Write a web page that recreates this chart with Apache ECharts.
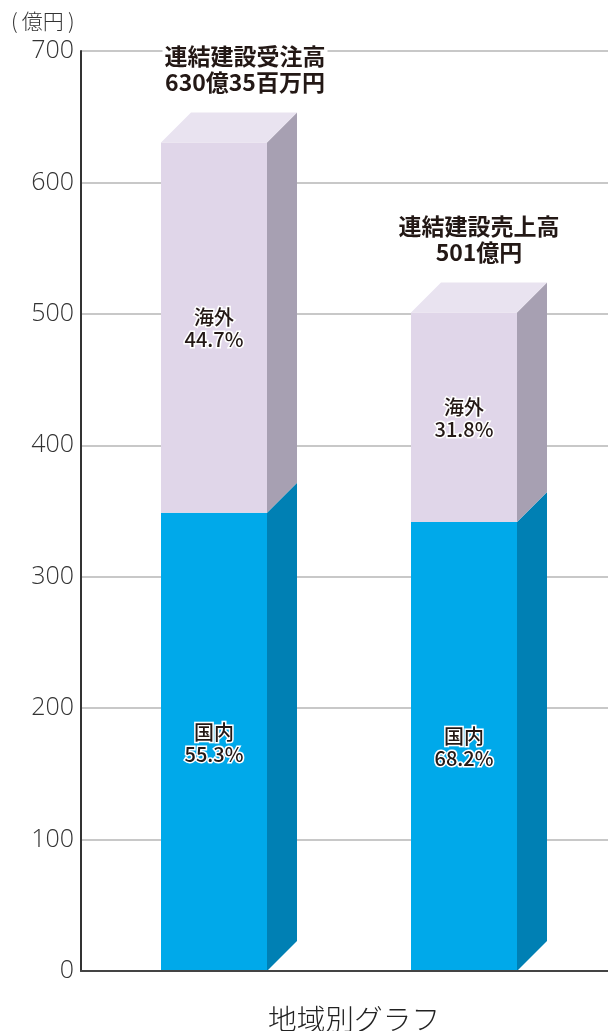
<!DOCTYPE html>
<html>
<head>
<meta charset="utf-8">
<style>
  html, body { margin: 0; padding: 0; background: #fff; }
  #chart { width: 608px; height: 1031px; }
</style>
<script src="https://cdn.jsdelivr.net/npm/echarts@6/dist/echarts.min.js"></script>
</head>
<body>
<div id="chart"></div>
<script>
const barIndex = [0, 1]
const domestic = [348.6, 341.7]
const overseas = [281.75, 159.3]
const domesticLabels = ['国内\n55.3%', '国内\n68.2%']
const overseasLabels = ['海外\n44.7%', '海外\n31.8%']
const totalLabels = ['連結建設受注高\n630億35百万円', '連結建設売上高\n501億円']

const BAR_W = 106
const DEPTH = 30
// totals are not centred on the bars in the original
const totalShift = [31, 15]
const CJK = '"Noto Sans CJK JP", sans-serif'
const NUM = '"Open Sans", "Noto Sans CJK JP", sans-serif'

function barItem(api, colors, text, withTop) {
  const i = api.value(0)
  const low = api.coord([i, api.value(1)])
  const high = api.coord([i, api.value(2)])
  const x0 = low[0] - BAR_W / 2
  const x1 = x0 + BAR_W
  const children = [
    {
      type: 'polygon',
      shape: { points: [[x1, low[1]], [x1 + DEPTH, low[1] - DEPTH], [x1 + DEPTH, high[1] - DEPTH], [x1, high[1]]] },
      style: { fill: colors.side }
    },
    {
      type: 'rect',
      shape: { x: x0, y: high[1], width: BAR_W, height: low[1] - high[1] },
      style: { fill: colors.front }
    },
    {
      type: 'text',
      style: {
        x: low[0], y: (low[1] + high[1]) / 2 + 1,
        text: text[i], align: 'center', verticalAlign: 'middle',
        font: '500 20px ' + CJK, lineHeight: 22,
        fill: '#231815', stroke: '#fff', lineWidth: 3
      },
      z2: 10
    }
  ]
  if (withTop) {
    children.push({
      type: 'polygon',
      shape: { points: [[x0, high[1]], [x0 + DEPTH, high[1] - DEPTH], [x1 + DEPTH, high[1] - DEPTH], [x1, high[1]]] },
      style: { fill: colors.top }
    })
    children.push({
      type: 'text',
      style: {
        x: low[0] + totalShift[i], y: high[1] - 73,
        text: totalLabels[i], align: 'center', verticalAlign: 'middle',
        font: 'bold 23px ' + CJK, lineHeight: 26,
        fill: '#231815', backgroundColor: '#fff', padding: [0, 2, 0, 2]
      },
      z2: 10
    })
  }
  return { type: 'group', children }
}

const chart = echarts.init(document.getElementById('chart'), null, { renderer: 'canvas' })

chart.setOption({
  animation: false,
  title: [
    {
      text: '地域別グラフ', left: 349, top: 1000, textAlign: 'center',
      textStyle: { fontFamily: CJK, fontWeight: 300, fontSize: 28.7, color: '#222' }
    },
    {
      text: '(\u2009億円\u2009)', left: 6, top: 6,
      textStyle: { fontFamily: CJK, fontWeight: 300, fontSize: 21, color: '#333' }
    }
  ],
  grid: { left: 81, right: 0, top: 51, bottom: 60 },
  xAxis: {
    type: 'value', min: -0.532, max: 1.576,
    axisLine: { show: true, onZero: false, lineStyle: { color: '#444', width: 2 } },
    axisTick: { show: false }, axisLabel: { show: false }, splitLine: { show: false },
    z: 5
  },
  yAxis: {
    type: 'value', min: 0, max: 700, interval: 100,
    axisLine: { show: true, onZero: false, lineStyle: { color: '#333', width: 2 } },
    axisTick: { show: false },
    axisLabel: { fontFamily: NUM, fontWeight: 300, fontSize: 25, color: '#333', margin: 7 },
    splitLine: { lineStyle: { color: '#c8c8c8', width: 2 } }
  },
  series: [
    {
      name: '国内', type: 'custom',
      encode: { x: 0, y: [1, 2] },
      data: barIndex.map(i => [i, 0, domestic[i]]),
      renderItem: (p, api) => barItem(api, { front: '#00a9ea', side: '#0080b4' }, domesticLabels, false)
    },
    {
      name: '海外', type: 'custom',
      encode: { x: 0, y: [1, 2] },
      data: barIndex.map(i => [i, domestic[i], domestic[i] + overseas[i]]),
      renderItem: (p, api) => barItem(api, { front: '#e0d6e9', side: '#a7a0b2', top: '#e9e3f0' }, overseasLabels, true)
    }
  ]
})
</script>
</body>
</html>
